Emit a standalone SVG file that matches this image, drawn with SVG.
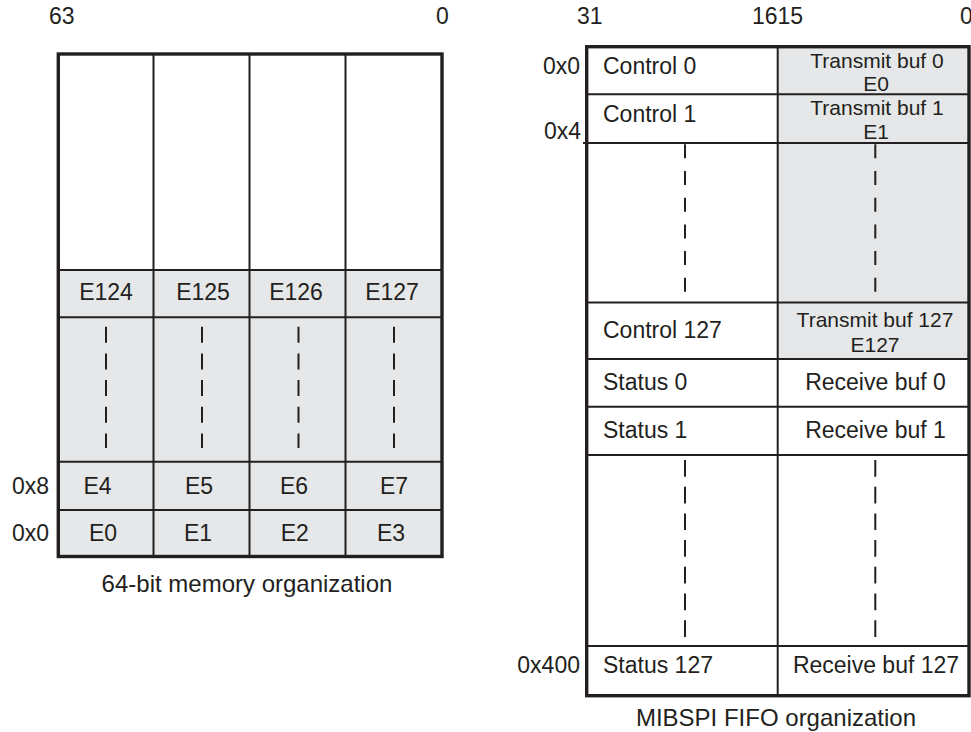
<svg xmlns="http://www.w3.org/2000/svg" width="971" height="732" viewBox="0 0 971 732">
<style>
text{font-family:"Liberation Sans",Arial,sans-serif;font-size:23px;fill:#231f20}
.m{text-anchor:middle}
.e{text-anchor:end}
.cap{font-size:24px}
.tx{font-size:21px}
.ln{stroke:#231f20;stroke-width:2;fill:none}
.bd{stroke:#231f20;stroke-width:3.4;fill:none}
.dl{stroke:#231f20;stroke-width:2;fill:none;stroke-dasharray:16 10.7}
.gray{fill:#e6e7e8}
.white{fill:#ffffff}
</style>
<rect width="971" height="732" fill="#ffffff"/>
<g id="labels">
<text x="49" y="24">63</text>
<text x="436" y="24">0</text>
<text x="577" y="24">31</text>
<text x="752" y="24">1615</text>
<text x="960" y="24">0</text>
<text class="e" x="49" y="494">0x8</text>
<text class="e" x="49" y="541">0x0</text>
<text class="e" x="580" y="74">0x0</text>
<text class="e" x="581" y="139">0x4</text>
<text class="e" x="580" y="673">0x400</text>
<text class="m cap" x="247" y="592">64-bit memory organization</text>
<text class="m cap" x="776" y="726">MIBSPI FIFO organization</text>
</g>
<g id="mem64">
<rect class="white" x="58.3" y="54" width="383.7" height="216"/>
<rect class="gray" x="58.3" y="270" width="383.7" height="286.5"/>
<g id="mem64-grid">
<line class="ln" x1="153.5" y1="54" x2="153.5" y2="556.5"/>
<line class="ln" x1="249.5" y1="54" x2="249.5" y2="556.5"/>
<line class="ln" x1="345.5" y1="54" x2="345.5" y2="556.5"/>
<line class="ln" x1="58.3" y1="270" x2="442" y2="270"/>
<line class="ln" x1="58.3" y1="317.3" x2="442" y2="317.3"/>
<line class="ln" x1="58.3" y1="461.7" x2="442" y2="461.7"/>
<line class="ln" x1="58.3" y1="510" x2="442" y2="510"/>
</g>
<g id="mem64-row-e124">
<text class="m" x="106" y="300">E124</text>
<text class="m" x="203" y="300">E125</text>
<text class="m" x="296" y="300">E126</text>
<text class="m" x="392" y="300">E127</text>
</g>
<g id="mem64-row-e4">
<text class="m" x="97.5" y="494">E4</text>
<text class="m" x="199" y="494">E5</text>
<text class="m" x="294" y="494">E6</text>
<text class="m" x="394" y="494">E7</text>
</g>
<g id="mem64-row-e0">
<text class="m" x="103" y="541">E0</text>
<text class="m" x="198" y="541">E1</text>
<text class="m" x="294.7" y="541">E2</text>
<text class="m" x="391" y="541">E3</text>
</g>
<rect class="bd" x="58.3" y="54" width="383.7" height="502.5"/>
</g>
<g id="fifo">
<rect class="white" x="586.7" y="46.7" width="382.3" height="649"/>
<rect class="gray" x="777.7" y="46.7" width="191.3" height="312.3"/>
<g id="fifo-grid">
<line class="ln" x1="777.7" y1="46.7" x2="777.7" y2="695.7"/>
<line class="ln" x1="586.7" y1="94.3" x2="969" y2="94.3"/>
<line class="ln" x1="583" y1="143" x2="969" y2="143"/>
<line class="ln" x1="586.7" y1="302.5" x2="969" y2="302.5"/>
<line class="ln" x1="586.7" y1="359" x2="969" y2="359"/>
<line class="ln" x1="586.7" y1="406.7" x2="969" y2="406.7"/>
<line class="ln" x1="586.7" y1="455" x2="969" y2="455"/>
<line class="ln" x1="586.7" y1="646" x2="969" y2="646"/>
</g>
<g id="fifo-row0">
<text x="603" y="74">Control 0</text>
<text class="m tx" x="877" y="67.5">Transmit buf 0</text>
<text class="m tx" x="876" y="91">E0</text>
</g>
<g id="fifo-row1">
<text x="603" y="122">Control 1</text>
<text class="m tx" x="877" y="115">Transmit buf 1</text>
<text class="m tx" x="876" y="139">E1</text>
</g>
<g id="fifo-row127">
<text x="603" y="338">Control 127</text>
<text class="m tx" x="875" y="327">Transmit buf 127</text>
<text class="m tx" x="875" y="351.5">E127</text>
</g>
<g id="fifo-status0">
<text x="603" y="390">Status 0</text>
<text class="m" x="875.5" y="390">Receive buf 0</text>
</g>
<g id="fifo-status1">
<text x="603" y="437.7">Status 1</text>
<text class="m" x="875.5" y="437.7">Receive buf 1</text>
</g>
<g id="fifo-status127">
<text x="603" y="673">Status 127</text>
<text class="m" x="876" y="673">Receive buf 127</text>
</g>
<rect class="bd" x="586.7" y="46.7" width="382.3" height="649"/>
</g>
<g id="connectors">
<line class="dl" x1="106" y1="326.7" x2="106" y2="448"/>
<line class="dl" x1="202" y1="326.7" x2="202" y2="448"/>
<line class="dl" x1="298.5" y1="326.7" x2="298.5" y2="448"/>
<line class="dl" x1="394" y1="326.7" x2="394" y2="448"/>
<line class="dl" x1="685" y1="144.3" x2="685" y2="293" style="stroke-dasharray:14 12.7"/>
<line class="dl" x1="875.3" y1="144.3" x2="875.3" y2="293" style="stroke-dasharray:14 12.7"/>
<line class="dl" x1="685" y1="460" x2="685" y2="637" style="stroke-dasharray:16.7 10"/>
<line class="dl" x1="875.3" y1="460" x2="875.3" y2="637" style="stroke-dasharray:16.7 10"/>
</g>
</svg>
